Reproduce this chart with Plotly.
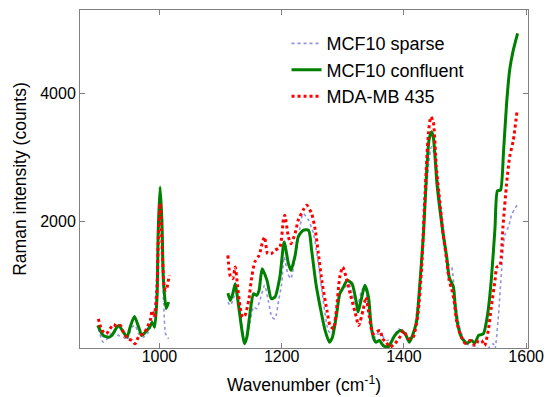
import plotly.graph_objects as go

# ---- data (wavenumber cm^-1, Raman intensity counts) ----
sparse_x1 = [900, 908, 917, 925, 933, 941, 947, 955, 960, 966, 974, 982, 990, 994, 998, 1001, 1004, 1007, 1010, 1015]
sparse_y1 = [328, 119, 197, 302, 223, 197, 156, 353, 380, 250, 197, 275, 510, 875, 1600, 2350, 1600, 700, 250, 170]
sparse_x2 = [1112, 1116, 1121, 1125, 1132, 1139, 1143, 1148, 1154, 1159, 1166, 1172, 1178, 1184, 1189, 1195, 1200, 1204,
             1210, 1215, 1222, 1230, 1235, 1244, 1252, 1260, 1268, 1276, 1282, 1287, 1295, 1304, 1309, 1315, 1323, 1331,
             1336, 1342, 1350, 1355, 1364, 1372, 1383, 1391, 1399, 1407, 1415, 1423, 1432, 1440, 1445, 1451, 1459, 1467,
             1472, 1478, 1483, 1491, 1502, 1516, 1532, 1546, 1549, 1554, 1560, 1565, 1571, 1576, 1582, 1586]
sparse_y2 = [744, 692, 797, 927, 562, 145, 177, 406, 666, 641, 822, 1005, 770, 509, 484, 770, 1031, 1447,
             1188, 1109, 1447, 1916, 2125, 2020, 1813, 1344, 770, 302, 250, 509, 875, 978, 1083, 875, 666, 927,
             978, 666, 145, 250, 223, 145, 197, 328, 275, 145, 250, 770, 1813, 2853, 3166, 3009, 2333, 1708,
             1344, 1291, 875, 353, 94, 50, -20, 94, 20, 458, 1270, 1785, 1916, 2100, 2210, 2270]

conf_x1 = [899, 908, 917, 922, 933, 941, 947, 952, 959, 966, 971, 977, 984, 988, 992, 996, 998, 1001, 1004, 1006.5, 1011, 1015]
conf_y1 = [380, 223, 197, 223, 380, 275, 197, 353, 520, 353, 223, 275, 353, 431, 353, 822, 1864, 2541, 2020, 1083, 645, 744]
conf_x2 = [1112, 1116, 1120, 1124, 1129, 1135, 1139, 1143, 1148, 1154, 1159, 1163, 1168, 1176, 1183, 1189, 1197, 1204,
           1211, 1215, 1222, 1227, 1235, 1244, 1249, 1256, 1263, 1271, 1278, 1283, 1290, 1295, 1301, 1307, 1315, 1323,
           1325, 1331, 1336, 1342, 1346, 1350, 1354, 1360, 1366, 1374, 1385, 1394, 1402, 1409, 1415, 1421, 1426, 1432,
           1437, 1441, 1445, 1448, 1454, 1459, 1464, 1470, 1474, 1481, 1484, 1489, 1494, 1503, 1511, 1516, 1522, 1530,
           1537, 1543, 1549, 1553, 1558, 1563, 1568, 1573, 1579, 1586]
conf_y2 = [884, 770, 875, 1031, 719, 302, 94, 197, 562, 875, 848, 927, 1266, 1083, 797, 822, 1134, 1681,
           1344, 1239, 1473, 1759, 1864, 1864, 1552, 1031, 666, 302, 119, 197, 562, 875, 978, 1083, 1031, 692,
           588, 822, 1005, 822, 406, 197, 119, 145, 67, 40, 223, 302, 250, 119, 250, 458, 1022, 1813,
           2750, 3270, 3400, 3322, 2594, 2177, 1813, 1447, 1134, 978, 666, 353, 197, 103, 145, 103, 223, 250,
           560, 1100, 1900, 2480, 2490, 3100, 3844, 4364, 4677, 4937]

mda_x1 = [900, 906, 913, 919, 925, 930, 936, 941, 948, 955, 960, 967, 974, 979, 985, 988, 992, 996, 998, 1001, 1004, 1008, 1011, 1016]
mda_y1 = [484, 302, 250, 328, 395, 364, 380, 275, 172, 145, 94, 223, 250, 328, 458, 614, 510, 927, 1708, 2281, 1708, 978, 927, 1161]
mda_x2 = [1112, 1116, 1120, 1124, 1128, 1132, 1136, 1140, 1146, 1151, 1156, 1163, 1168, 1172, 1177, 1183, 1189, 1197,
          1203, 1205, 1211, 1215, 1222, 1227, 1235, 1241, 1249, 1255, 1260, 1266, 1274, 1279, 1285, 1290, 1295, 1300,
          1306, 1312, 1320, 1326, 1333, 1338, 1343, 1349, 1354, 1361, 1365, 1371, 1377, 1385, 1394, 1399, 1407, 1415,
          1423, 1429, 1434, 1440, 1444, 1448, 1453, 1459, 1464, 1470, 1474, 1478, 1482, 1486, 1492, 1500, 1508, 1517,
          1522, 1527, 1532, 1538, 1543, 1549, 1552, 1557, 1562, 1568, 1573, 1579, 1585]
mda_y2 = [1473, 1145, 1109, 1291, 978, 666, 509, 536, 770, 1134, 1369, 1473, 1656, 1759, 1500, 1500, 1552, 1603,
          2047, 2098, 1759, 1656, 1817, 2020, 2177, 2255, 2125, 1864, 1500, 1052, 614, 380, 328, 666, 1134, 1291,
          1109, 875, 588, 380, 614, 822, 536, 250, 275, 302, 172, 119, 41, 94, 208, 302, 172, 197,
          562, 1291, 2333, 3375, 3634, 3556, 2853, 2281, 1813, 1395, 1083, 953, 770, 458, 250, 103, 145, 67,
          145, 145, 67, 302, 666, 1083, 1291, 1317, 1916, 2594, 3009, 3270, 3712]

x_ticks = [1000, 1200, 1400, 1600]
y_ticks = [2000, 4000]
FONT = "Liberation Sans, Arial, sans-serif"


def join(a, b):
    return a + [None] + b


fig = go.Figure()
fig.add_trace(go.Scatter(x=join(sparse_x1, sparse_x2), y=join(sparse_y1, sparse_y2), mode="lines",
                         name="MCF10 sparse", legendgroup="a", connectgaps=False,
                         line=dict(color="rgba(110,110,215,0.75)", width=1.6, dash="dot", shape="spline", smoothing=0.6)))
fig.add_trace(go.Scatter(x=join(conf_x1, conf_x2), y=join(conf_y1, conf_y2), mode="lines",
                         name="MCF10 confluent", legendgroup="b", connectgaps=False,
                         line=dict(color="#008000", width=3, shape="spline", smoothing=0.6)))
fig.add_trace(go.Scatter(x=join(mda_x1, mda_x2), y=join(mda_y1, mda_y2), mode="lines",
                         name="MDA-MB 435", legendgroup="c", connectgaps=False,
                         line=dict(color="#ff0000", width=3, dash="dot", shape="spline", smoothing=0.6)))

axis_common = dict(showline=True, linecolor="#808080", linewidth=1, mirror="allticks",
                   ticks="inside", ticklen=5, tickcolor="#808080", showgrid=False, zeroline=False,
                   tickfont=dict(family=FONT, size=16, color="black"), automargin=False)

fig.update_layout(
    width=546, height=397,
    margin=dict(l=80, r=18, t=10, b=49),
    paper_bgcolor="white", plot_bgcolor="white",
    font=dict(family=FONT, size=16, color="black"),
    xaxis=dict(range=[870, 1603], tickvals=x_ticks, ticktext=[str(v) for v in x_ticks],
               ticklabelstandoff=-6,
               title=dict(text="Wavenumber (cm<sup>-1</sup>)", font=dict(family=FONT, size=17.5), standoff=14),
               **axis_common),
    yaxis=dict(range=[28, 5300], tickvals=y_ticks, ticktext=[str(v) for v in y_ticks],
               title=dict(text="Raman intensity (counts)", font=dict(family=FONT, size=17.5), standoff=9),
               **axis_common),
    legend=dict(x=0.461, y=0.955, xanchor="left", yanchor="top", bgcolor="rgba(0,0,0,0)",
                borderwidth=0, font=dict(family=FONT, size=18), traceorder="grouped", tracegroupgap=0),
    showlegend=True,
)

fig.write_html("out.html", config={"displayModeBar": False},
               post_script="document.body.style.margin='0';")
